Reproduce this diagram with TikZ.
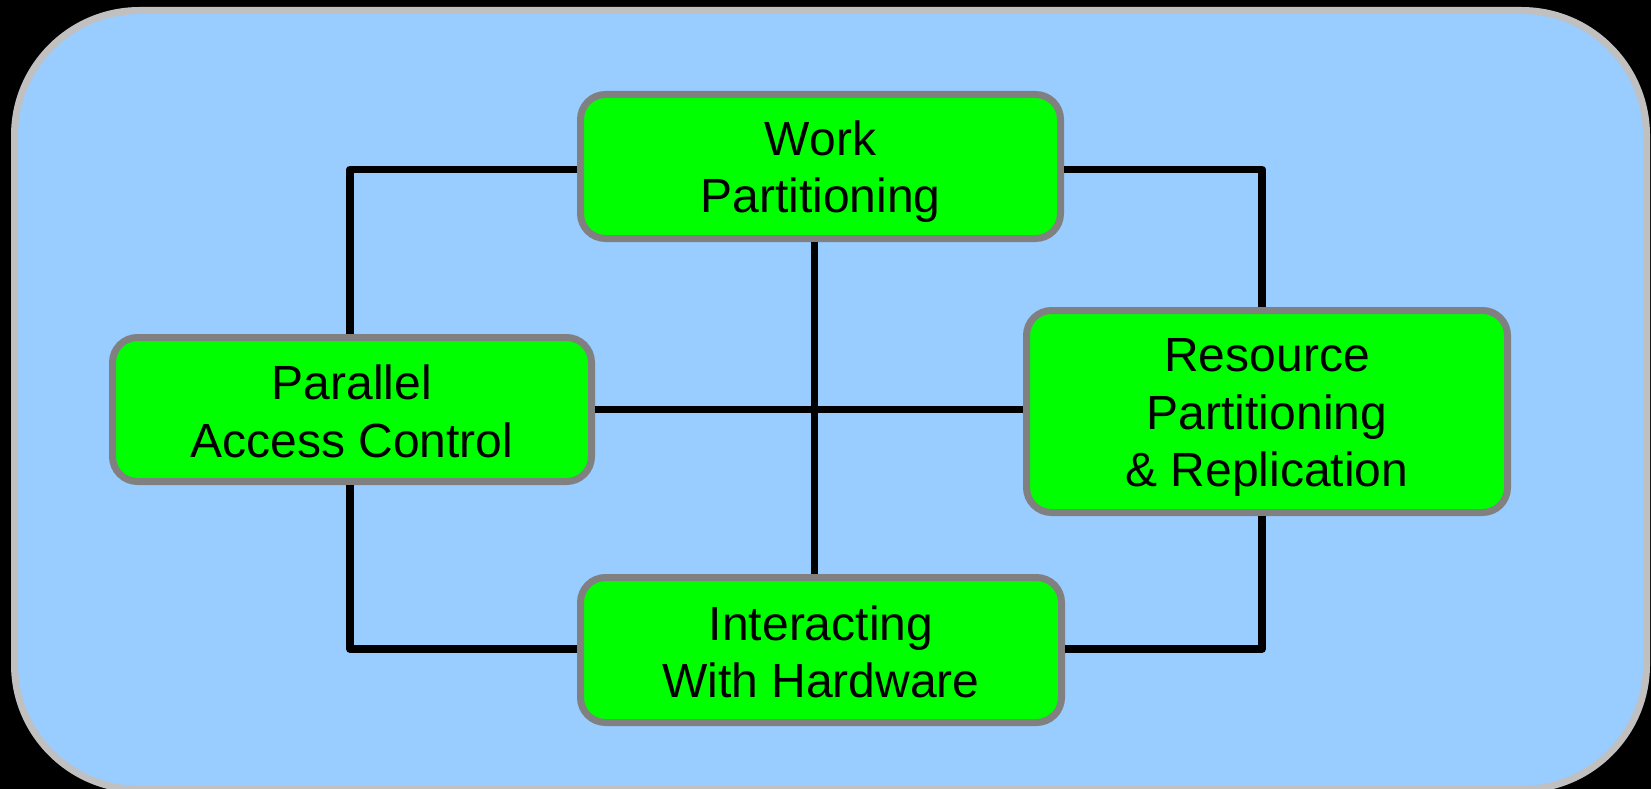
\documentclass[tikz,border=0pt]{standalone}
\usepackage{fontspec}
\setmainfont{Liberation Sans}
\definecolor{bgblue}{RGB}{153,204,255}
\definecolor{outergray}{RGB}{192,192,192}
\definecolor{boxgray}{RGB}{128,128,128}
\definecolor{boxgreen}{RGB}{0,255,0}
\newcommand\lnstrut{\rule[-7.5pt]{0pt}{52.5pt}}
\tikzset{
  topic/.style={rectangle, rounded corners=25pt, draw=boxgray, fill=boxgreen,
    line width=7pt, align=center, inner sep=0pt, text=black,
    font=\fontsize{48pt}{57.5pt}\selectfont},
  link/.style={draw=black, line width=7.5pt, line join=round}
}
\begin{document}
\begin{tikzpicture}[x=1pt,y=-1pt]
\fill[black] (0,0) rectangle (1651,789);
\useasboundingbox (0,0) rectangle (1651,789);
\draw[fill=bgblue, draw=outergray, line width=7pt, rounded corners=125pt] (14.5,10.5) rectangle (1646.5,789.5);

\node[topic, minimum width=480pt, minimum height=144pt] (work) at (820.5,166.5) {\lnstrut Work\\\lnstrut Partitioning};
\node[topic, minimum width=479pt, minimum height=144pt] (par) at (352,409.5) {\lnstrut Parallel\\\lnstrut Access Control};
\node[topic, minimum width=481pt, minimum height=202pt] (res) at (1267,411.5) {\lnstrut Resource\\\lnstrut Partitioning\\\lnstrut \& Replication};
\node[topic, minimum width=481pt, minimum height=145pt] (int) at (821,650) {\lnstrut Interacting\\\lnstrut With Hardware};

\draw[link] ([yshift=-3pt]work.west) -| ([xshift=-2pt]par.north);
\draw[link] ([yshift=-3pt]work.east) -| ([xshift=-5pt]res.north);
\draw[link] ([xshift=-6pt]work.south) -- ([xshift=-6.5pt]int.north);
\draw[link] (par.east) -- (par.east -| res.west);
\draw[link] ([xshift=-2pt]par.south) |- ([yshift=1pt]int.west);
\draw[link] ([xshift=-5pt]res.south) |- ([yshift=1pt]int.east);
\end{tikzpicture}
\end{document}
